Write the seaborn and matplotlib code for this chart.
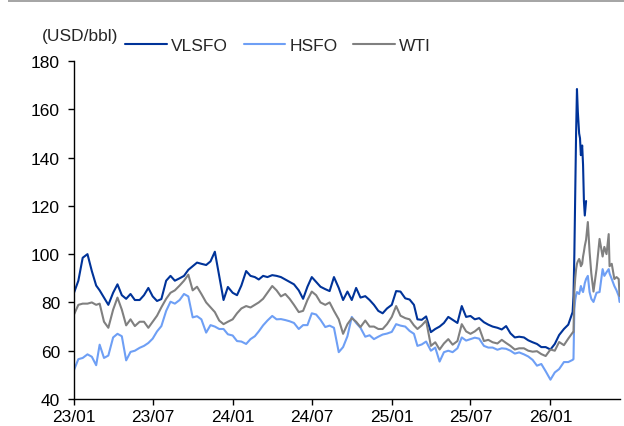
import numpy as np
import pandas as pd
import matplotlib.pyplot as plt
import matplotlib.dates as mdates
from matplotlib.patches import Rectangle
import seaborn as sns

# ---- 1. Data (USD/bbl) ----
# 1st / 11th / 21st of each month up to 2026-02-21, then a denser stretch for the spike
spike_dates = ["2026-02-23", "2026-02-25", "2026-02-27", "2026-03-01", "2026-03-03",
               "2026-03-05", "2026-03-08", "2026-03-10", "2026-03-12", "2026-03-15",
               "2026-03-17", "2026-03-19", "2026-03-21", "2026-03-24", "2026-03-28",
               "2026-04-01", "2026-04-05", "2026-04-10", "2026-04-17", "2026-04-24",
               "2026-05-01", "2026-05-05", "2026-05-10", "2026-05-15", "2026-05-17",
               "2026-05-22", "2026-05-28", "2026-06-02", "2026-06-07", "2026-06-09"]

vlsfo = [84, 89, 98.5, 100, 93, 87, 85, 82, 79, 84, 87.5, 83,
         81.5, 83.5, 81, 81, 83, 86, 82.5, 80.6, 81.4, 89, 91, 89,
         90, 91, 93.5, 95, 96.5, 96, 95.5, 97, 101, 91, 81, 86.4,
         84, 83, 87, 93, 91, 90.5, 89.5, 91, 90.5, 91.3, 91, 90.5,
         89.5, 88.5, 87.5, 85, 81.5, 86.5, 90.5, 88.5, 86.5, 85.5, 84.7, 90.5,
         86, 81, 84.5, 81, 86, 82, 82.6, 81, 79, 76.5, 75.5, 77.5,
         79, 84.7, 84.5, 81.7, 81.2, 79, 73, 72.8, 74.2, 67.7, 69, 70,
         71.5, 74, 72.8, 71.5, 78.5, 74, 74.4, 73, 73.5, 71.8, 70.8, 70,
         69.5, 68.8, 70.2, 67.2, 65.5, 65.8, 65.5, 64.3, 63.5, 62.8, 61.5, 61.5,
         60.5, 62.8, 66.5, 69, 70.8, 76,
         82.7, 100, 126, 150, 168.4, 159, 150, 148, 141, 145,
         137, 122, 116, 122] + [np.nan] * 16

hsfo = [52, 56.5, 57, 58.5, 57.5, 54, 62.5, 57, 58, 65.5, 67, 66,
        56, 59.5, 60, 61.2, 62, 63.2, 65, 68, 70.2, 76.5, 80.3, 79.5,
        81, 83.5, 82.5, 73.8, 74.3, 73, 67.5, 70.6, 70, 69, 69, 66.8,
        66.3, 64, 63.8, 62.8, 64.8, 66, 68, 70.5, 72.5, 74.4, 73, 73.1,
        72.7, 72.2, 71.5, 69, 70.6, 70.6, 75.5, 75, 72.8, 69.8, 70.4, 69.5,
        59.4, 61.5, 66, 74, 71.5, 69.5, 65.8, 66.4, 64.8, 65.8, 66.7, 67.1,
        67.8, 71, 70.4, 70, 68.2, 67, 62, 62.6, 63.8, 60, 61.3, 55.5,
        59.4, 60, 59.4, 61, 65.5, 64.2, 64.8, 65.4, 65, 62, 61.3, 61.3,
        60.4, 61, 60.8, 60, 58.8, 59.3, 58.5, 57.6, 56.2, 53.8, 54.5, 51.5,
        48, 51, 52.4, 55.3, 55.3, 56.2,
        56.5, 77.3, 81, 83, 84.3, 84, 83.5, 85, 86.8, 85,
        84.3, 86, 88, 89.7, 91, 84.3, 81.5, 80.2, 84, 84.3,
        93.8, 91, 92.5, 93.8, 92, 89.7, 86.8, 85, 82.7, 80.2]

wti = [75, 79, 79.5, 79.5, 80, 79, 79.5, 72, 69.5, 77, 82, 77,
       70.5, 73, 70.2, 72, 72, 69.5, 72, 74.5, 78, 81.5, 84, 85,
       87, 89, 91.5, 85, 86.5, 83.5, 80, 78, 76, 72.5, 71, 72,
       73, 75.5, 77.5, 78.5, 77.9, 79, 80, 81.5, 84, 86.8, 85, 82.5,
       83.5, 81.5, 79, 76, 76.5, 81, 84.5, 83, 80, 79, 80, 76.5,
       73, 67, 71, 73.5, 72, 69.8, 72.5, 70, 70, 69, 69, 71,
       74, 78.5, 74.5, 73.5, 73, 70.5, 69, 70.5, 72.5, 62, 63.5, 60.5,
       63, 64.8, 62.5, 64, 71, 68, 67, 68, 69.5, 64, 64.5, 63.5,
       63, 64.5, 63.2, 62, 60.5, 61, 61, 60, 59.6, 59.8, 58.6, 57.8,
       60.5, 60, 63.6, 62.3, 65, 67.5,
       67.7, 84.3, 90, 93.8, 96, 97, 98, 97, 95, 96,
       99, 101, 103.4, 106, 113.3, 101, 92, 84.5, 93.8, 106.3,
       99, 103, 100, 108.3, 95, 96, 89.7, 90.5, 89.7, 82.7]

series = ["VLSFO", "HSFO", "WTI"]
colors = ["#003399", "#6E9FF5", "#808080"]

days = pd.date_range("2023-01-01", "2026-02-21", freq="D")
dates = list(days[days.day.isin([1, 11, 21])]) + list(pd.to_datetime(spike_dates))

df = pd.DataFrame({"date": dates, "VLSFO": vlsfo, "HSFO": hsfo, "WTI": wti})
long = df.melt(id_vars="date", var_name="series", value_name="price").dropna()

# ---- 2. Plot ----
sns.set_style("ticks")
plt.rcParams["font.family"] = ["Liberation Sans", "DejaVu Sans"]
plt.rcParams["font.size"] = 12.5

fig = plt.figure(figsize=(6.24, 4.27), dpi=100)
ax = fig.add_axes([74 / 624, 1 - 400 / 427, 546 / 624, 338 / 427])

sns.lineplot(data=long, x="date", y="price", hue="series", hue_order=series,
             palette=colors, estimator=None, linewidth=1.5, ax=ax)

ax.set_xlim(pd.Timestamp("2023-01-01"), pd.Timestamp("2026-06-10"))
ax.set_ylim(40, 180)
ax.set_yticks(range(40, 181, 20))
ax.xaxis.set_major_locator(mdates.MonthLocator(bymonth=[1, 7]))
ax.xaxis.set_major_formatter(mdates.DateFormatter("%y/%m"))
ax.set_xlabel("")
ax.set_ylabel("")
ax.tick_params(direction="out", length=4, width=1, colors="black", labelsize=12.5)
ax.tick_params(axis="y", pad=6)
sns.despine(ax=ax)
for s in ["left", "bottom"]:
    ax.spines[s].set_color("black")
    ax.spines[s].set_linewidth(1)

handles, labels = ax.get_legend_handles_labels()
ax.legend(handles, labels, loc="center left", ncol=3, frameon=False,
          bbox_to_anchor=(125 / 624, 1 - 46 / 427), bbox_transform=fig.transFigure,
          borderpad=0, borderaxespad=0, handlelength=2.4, handletextpad=0.25,
          columnspacing=0.9, fontsize=12.5)

fig.text(42 / 624, 1 - 37 / 427, "(USD/bbl)", fontsize=12.5, va="center", ha="left")
fig.patches.append(Rectangle((8 / 624, 1 - 3 / 427), 1, 3 / 427, transform=fig.transFigure,
                             facecolor="#A6A6A6", edgecolor="none"))

fig.savefig("out.png", dpi=100)
